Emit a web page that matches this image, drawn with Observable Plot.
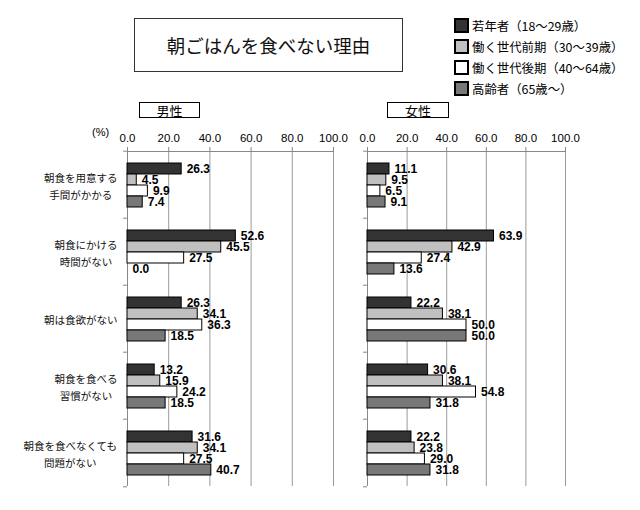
<!DOCTYPE html>
<html><head><meta charset="utf-8">
<script src="https://cdn.jsdelivr.net/npm/d3@7"></script>
<script src="https://cdn.jsdelivr.net/npm/@observablehq/plot@0.6"></script>
<style>
body{margin:0;background:#fff;font-family:"Noto Sans CJK JP",sans-serif;}
#root{position:relative;width:640px;height:510px;overflow:hidden;background:#fff;}
.abs{position:absolute;}
#title{left:134px;top:18px;width:267px;height:52px;border:1px solid #333;display:flex;align-items:center;justify-content:center;font-size:18.5px;color:#111;}
.pbox{top:102px;height:14px;border:1.5px solid #000;display:flex;align-items:center;justify-content:center;font-size:13px;line-height:1;}
#pct{left:92px;top:126px;font-size:11px;font-family:"Liberation Sans",sans-serif;}
#legend{left:455px;top:15px;}
.lg-swatches{font-family:"Noto Sans CJK JP",sans-serif !important;font-size:12.4px !important;margin:0 !important;color:#000;}
.lg-swatch{display:flex;align-items:center;height:21px;padding:0 !important;margin:0 !important;}
.lg-swatch svg{margin-right:4px !important;}
.lg-swatch svg rect{stroke:#000;stroke-width:2px;}
</style>
</head><body>
<div id="root">
  <div id="title" class="abs">朝ごはんを食べない理由</div>
  <div id="legend" class="abs"></div>
  <div class="abs pbox" style="left:139px;width:59px;">男性</div>
  <div class="abs pbox" style="left:387px;width:60px;">女性</div>
  <div id="pct" class="abs">(%)</div>
  <div id="male" class="abs" style="left:0px;top:120px;"></div>
  <div id="female" class="abs" style="left:350px;top:120px;"></div>
</div>
<script>
const categories = ["朝食を用意する\n手間がかかる","朝食にかける\n時間がない","朝は食欲がない","朝食を食べる\n習慣がない","朝食を食べなくても\n問題がない"];
const series = ["若年者（18～29歳）","働く世代前期（30～39歳）","働く世代後期（40～64歳）","高齢者（65歳～）"];
const colors = ["#333333","#c0c0c0","#ffffff","#787878"];
const maleYoung  = [26.3, 52.6, 26.3, 13.2, 31.6];
const maleEarly  = [4.5, 45.5, 34.1, 15.9, 34.1];
const maleLate   = [9.9, 27.5, 36.3, 24.2, 27.5];
const maleSenior = [7.4, 0.0, 18.5, 18.5, 40.7];
const femaleYoung  = [11.1, 63.9, 22.2, 30.6, 22.2];
const femaleEarly  = [9.5, 42.9, 38.1, 38.1, 23.8];
const femaleLate   = [6.5, 27.4, 50.0, 54.8, 29.0];
const femaleSenior = [9.1, 13.6, 50.0, 31.8, 31.8];
const xTicks = [0, 20, 40, 60, 80, 100];

function rows(list) {
  return list.flatMap((vals, si) => vals.map((v, ci) => ({category: categories[ci], series: series[si], value: v})));
}

function makePanel(data, {width, marginLeft, marginRight, labels}) {
  const height = 373, marginTop = 29, marginBottom = 6;
  const band = (height - marginTop - marginBottom) / categories.length;
  const fs = 10.5;
  const marks = [
    Plot.gridX({ticks: xTicks.slice(1), stroke: "#9a9a9a", strokeOpacity: 1}),
    Plot.ruleX([0], {stroke: "#888"}),
    Plot.frame({anchor: "top", facet: "super", stroke: "#888"}),
    Plot.axisX({anchor: "top", label: null, ticks: xTicks, tickFormat: d => d.toFixed(1), tickSize: 5, tickPadding: 5, fontSize: 11.5, stroke: "#888", fill: "#000"}),
    Plot.barX(data, {x: "value", y: "series", fy: "category", fill: "series", stroke: "#000", strokeWidth: 1}),
    Plot.text(data, {x: "value", y: "series", fy: "category", text: d => d.value.toFixed(1), textAnchor: "start", dx: 5, fontWeight: "bold", fontSize: 12, fill: "#000"}),
    Plot.axisFy({anchor: "left", label: null, tickSize: 4, tickFormat: () => "", dy: -band / 2, stroke: "#888"}),
    Plot.axisFy({anchor: "left", label: null, ticks: [categories[categories.length - 1]], tickSize: 4, tickFormat: () => "", dy: band / 2, stroke: "#888"})
  ];
  if (labels) {
    categories.forEach(c => {
      const maxChars = d3.max(c.split("\n"), l => l.length);
      marks.push(Plot.text([c], {fy: d => d, text: d => d, frameAnchor: "left", textAnchor: "middle",
        dx: -(10 + maxChars * fs / 2), fontSize: fs, lineHeight: 1.6, fontFamily: "Noto Sans CJK JP", fill: "#111"}));
    });
  }
  return Plot.plot({
    width, height, marginTop, marginBottom, marginLeft, marginRight,
    x: {domain: [0, 100], axis: null},
    y: {domain: series, axis: null, paddingInner: 0, paddingOuter: 0.82},
    fy: {domain: categories, axis: null, padding: 0},
    color: {domain: series, range: colors},
    style: {fontFamily: "Liberation Sans, sans-serif", background: "transparent", color: "#000", overflow: "visible"},
    marks
  });
}

document.getElementById("male").append(makePanel(rows([maleYoung, maleEarly, maleLate, maleSenior]), {width: 350, marginLeft: 127, marginRight: 17, labels: true}));
document.getElementById("female").append(makePanel(rows([femaleYoung, femaleEarly, femaleLate, femaleSenior]), {width: 290, marginLeft: 17, marginRight: 75, labels: false}));
document.getElementById("legend").append(Plot.legend({color: {domain: series, range: colors}, legend: "swatches", columns: 1, swatchSize: 13, className: "lg"}));
</script>
</body></html>
